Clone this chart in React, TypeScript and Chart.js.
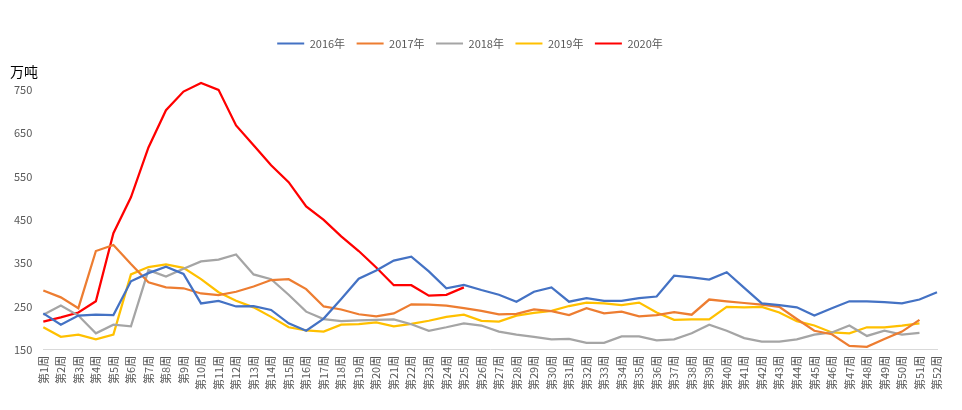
import { useEffect, useRef } from 'react';
import { Chart, registerables } from 'chart.js';

Chart.register(...registerables);

const weeks: string[] = Array.from({ length: 52 }, (_, i) => `第${i + 1}周`);

const s2016 = [234, 208, 229, 231, 230, 308, 327, 342, 325, 257, 263, 250, 251, 242, 211, 194, 222, 267, 314, 333, 356, 365, 331, 292, 300, 288, 277, 261, 284, 294, 261, 269, 263, 263, 269, 273, 321, 317, 312, 329, 293, 257, 253, 248, 229, 246, 262, 262, 260, 257, 266, 283];
const s2017 = [287, 271, 246, 378, 392, 348, 306, 294, 292, 280, 276, 284, 296, 311, 313, 290, 250, 243, 232, 227, 234, 255, 254, 252, 246, 240, 232, 233, 243, 239, 230, 246, 234, 238, 227, 230, 237, 231, 266, 262, 258, 254, 249, 221, 194, 186, 159, 157, 175, 192, 219, null];
const s2018 = [231, 252, 229, 188, 208, 204, 334, 319, 337, 354, 358, 370, 324, 313, 277, 238, 221, 216, 218, 219, 220, 209, 194, 202, 211, 206, 192, 185, 180, 174, 175, 166, 166, 181, 181, 172, 174, 188, 208, 194, 177, 169, 169, 174, 185, 190, 206, 182, 194, 185, 189, null];
const s2019 = [202, 180, 185, 174, 185, 324, 341, 347, 339, 313, 283, 263, 248, 226, 202, 195, 192, 208, 209, 213, 204, 210, 217, 226, 231, 217, 215, 229, 235, 240, 251, 259, 257, 253, 259, 236, 219, 220, 220, 249, 248, 249, 236, 216, 206, 190, 188, 202, 202, 206, 211, null];
const s2020 = [215, 225, 236, 262, 419, 502, 617, 703, 746, 766, 750, 668, 622, 576, 537, 481, 450, 412, 378, 340, 299, 299, 275, 277, 294];

const seriesNames = ['2016年', '2017年', '2018年', '2019年', '2020年'];
const seriesColors = ['#4472C4', '#ED7D31', '#A5A5A5', '#FFC000', '#FF0000'];
const yTicks = [150, 250, 350, 450, 550, 650, 750];
const yMin = 150;
const yMax = 800;

const FONT = '"Noto Sans CJK SC", "Noto Sans", sans-serif';

export default function App() {
  const ref = useRef<HTMLCanvasElement | null>(null);

  useEffect(() => {
    document.body.style.margin = '0';
    const canvas = ref.current;
    if (!canvas) return;
    const all = [s2016, s2017, s2018, s2019, s2020];
    const chart = new Chart(canvas, {
      type: 'line',
      data: {
        labels: weeks,
        datasets: all.map((d, i) => ({
          label: seriesNames[i],
          data: d,
          borderColor: seriesColors[i],
          backgroundColor: seriesColors[i],
          borderWidth: 2.25,
          pointRadius: 0,
          pointHoverRadius: 0,
          tension: 0,
          fill: false,
          spanGaps: false,
        })),
      },
      options: {
        responsive: false,
        maintainAspectRatio: false,
        animation: false,
        events: [],
        layout: { padding: { left: 3, right: 25, top: 26.5, bottom: 14 } },
        plugins: {
          tooltip: { enabled: false },
          title: {
            display: true,
            text: '',
            weight: 500,
            font: { size: 1 },
            padding: { top: 0, bottom: 8 },
          },
          legend: {
            position: 'top',
            labels: {
              boxWidth: 27,
              boxHeight: 2,
              padding: 11.5,
              color: '#595959',
              font: { size: 11, family: FONT },
              generateLabels: (c: any) => {
                const items = (Chart.defaults.plugins.legend.labels as any).generateLabels(c);
                return items.map((it: any) => ({ ...it, lineWidth: 0, fillStyle: it.strokeStyle }));
              },
            },
          },
        },
        scales: {
          x: {
            grid: { display: false, drawTicks: false },
            border: { display: true, color: '#D9D9D9', width: 1 },
            ticks: {
              autoSkip: false,
              maxRotation: 90,
              minRotation: 90,
              color: '#595959',
              padding: 6,
              font: { size: 11, family: FONT },
            },
          },
          y: {
            min: yMin,
            max: yMax,
            afterBuildTicks: (axis: any) => {
              axis.ticks = yTicks.map((v) => ({ value: v }));
            },
            grid: { display: false, drawTicks: false },
            border: { display: false },
            ticks: {
              color: '#595959',
              padding: 11,
              font: { size: 11, family: FONT },
            },
          },
        },
      },
    } as any);
    return () => chart.destroy();
  }, []);

  return (
    <div style={{ position: 'relative', width: 962, height: 410, background: '#fff' }}>
      <canvas ref={ref} width={962} height={410} />
      <div
        style={{
          position: 'absolute',
          left: 10,
          top: 62,
          fontSize: 14,
          fontFamily: FONT,
          color: '#000',
          lineHeight: '18px',
        }}
      >
        万吨
      </div>
    </div>
  );
}
